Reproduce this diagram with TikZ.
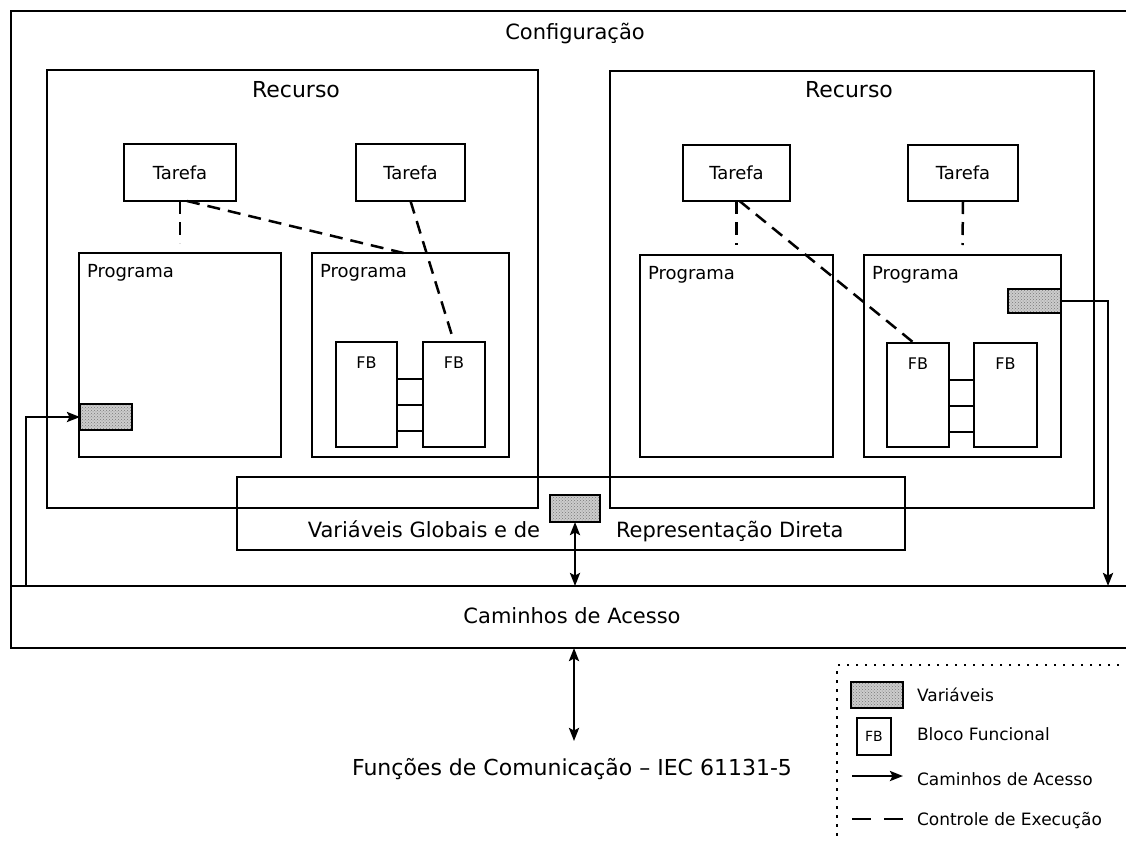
\documentclass[tikz,border=0pt]{standalone}
\usepackage{fontspec}
\setmainfont{DejaVu Sans}
\usetikzlibrary{arrows.meta,patterns,calc}

\newcommand\sz[1]{\fontsize{#1}{#1}\selectfont}

\begin{document}
\begin{tikzpicture}[x=1pt, y=-1pt, line width=2.5pt,
  every node/.style={inner sep=0pt, outer sep=0pt},
  blk/.style 2 args={draw, line width=2.5pt, anchor=north west,
    minimum width=#1pt, minimum height=#2pt},
  varbox/.style 2 args={blk={#1}{#2}, preaction={fill=gray!40},
    pattern=crosshatch dots, pattern color=gray!95!black},
  txt/.style={font=\sz{21}},
  small/.style={font=\sz{18}},
  fbtxt/.style={font=\sz{16}},
  legtxt/.style={font=\sz{17}, anchor=base west},
  ctrl/.style={dash pattern=on 13pt off 8pt},
  tip/.style={Stealth[length=13pt,width=10pt,inset=2.5pt]},
  acc/.style={-{Stealth[length=13pt,width=10pt,inset=2.5pt]}},
  acc2/.style={{Stealth[length=13pt,width=10pt,inset=2.5pt]}-{Stealth[length=13pt,width=10pt,inset=2.5pt]}}
]
\path[use as bounding box] (0,0) rectangle (1126,841);
\clip (0,0) rectangle (1126,841);

% configuration and access paths
\node[blk={1139}{575}] (cfg) at (11,11) {};
\node[blk={1122}{62}] (cam) at (11,586) {};
\node[txt, anchor=base] (cfgT) at (575,39) {Configuração};
\node[txt, anchor=base] (camT) at (572,623) {Caminhos de Acesso};

% resources
\node[blk={491}{438}] (recL) at (47,70) {};
\node[blk={484}{437}] (recR) at (610,71) {};
\node[txt, font=\sz{22}, anchor=base] (recLT) at (296,97) {Recurso};
\node[txt, font=\sz{22}, anchor=base] (recRT) at (849,97) {Recurso};

% tasks
\node[blk={112}{57}, small] (taskA) at (124,144) {Tarefa};
\node[blk={109}{57}, small] (taskB) at (356,144) {Tarefa};
\node[blk={107}{56}, small] (taskC) at (683,145) {Tarefa};
\node[blk={110}{56}, small] (taskD) at (908,145) {Tarefa};

% programs
\node[blk={202}{204}] (progA) at (79,253) {};
\node[blk={197}{204}] (progB) at (312,253) {};
\node[blk={193}{202}] (progC) at (640,255) {};
\node[blk={197}{202}] (progD) at (864,255) {};
\foreach \p in {progA,progB,progC,progD}
  \node[small, anchor=base west] (\p T) at ($(\p.north west)+(8,24)$) {Programa};

% function blocks
\node[blk={61}{105}] (fbA) at (336,342) {};
\node[blk={62}{105}] (fbB) at (423,342) {};
\node[blk={62}{104}] (fbC) at (887,343) {};
\node[blk={63}{104}] (fbD) at (974,343) {};
\foreach \f in {fbA,fbB,fbC,fbD}
  \node[fbtxt, anchor=base] (\f T) at ($(\f.north)+(0,26)$) {FB};
\foreach \d in {37,63,89} {
  \draw ([yshift=-\d pt]fbA.north east) -- ([yshift=-\d pt]fbB.north west);
  \draw ([yshift=-\d pt]fbC.north east) -- ([yshift=-\d pt]fbD.north west);
}

% global variables area
\node[blk={668}{73}] (vg) at (237,477) {};
\node[txt, anchor=base east] (vgT1) at (540,537) {Variáveis Globais e de};
\node[txt, anchor=base west] (vgT2) at (616,537) {Representação Direta};

% variables
\node[varbox={52}{26}] (varA) at (80,404) {};
\node[varbox={50}{27}] (varB) at (550,495) {};
\node[varbox={53}{24}] (varC) at (1008,289) {};

% execution control
\draw[ctrl] (taskA.south) -- ([yshift=10pt]progA.north);
\draw[ctrl] ([xshift=7pt]taskA.south) -- ([xshift=-7pt]progB.north);
\draw[ctrl] (taskB.south) -- (fbB.north);
\draw[ctrl] (taskC.south) -- ([yshift=10pt]progC.north);
\draw[ctrl] ([xshift=3pt]taskC.south) -- ([xshift=-4pt]fbC.north);
\draw[ctrl] (taskD.south) -- ([yshift=10pt]progD.north);

% access paths
\coordinate (accL) at (26,586);
\coordinate (accR) at (1108,586);
\draw[acc] (accL) |- (varA.west);
\draw[acc] (varC.east) -| (accR);
\draw[acc2] (varB.south) -- (varB.south |- cam.north);

% communication functions
\node[txt, font=\sz{22}, anchor=base] (func) at (572,775) {Funções de Comunicação – IEC 61131-5};
\coordinate (funcTop) at (574,741);
\draw[acc2] (cam.south -| funcTop) -- (funcTop);

% legend
\node[draw, line width=2.5pt, dash pattern=on 2.5pt off 6.5pt, anchor=north west,
  minimum width=320pt, minimum height=200pt] (legend) at (837,665) {};
\node[varbox={52}{26}] (legVar) at (851,682) {};
\node[blk={34}{37}, font=\sz{14}] (legFB) at (857,718) {FB};
\coordinate (legAccA) at (852,776);
\coordinate (legAccB) at (903,776);
\coordinate (legCtrlA) at (852,819);
\coordinate (legCtrlB) at (903,819);
\draw[acc] (legAccA) -- (legAccB);
\draw[dash pattern=on 19pt off 13pt] (legCtrlA) -- (legCtrlB);
\node[legtxt] (legVarT) at (917,701) {Variáveis};
\node[legtxt] (legFBT) at (917,740) {Bloco Funcional};
\node[legtxt] (legAccT) at (917,785) {Caminhos de Acesso};
\node[legtxt] (legCtrlT) at (917,825) {Controle de Execução};
\end{tikzpicture}
\end{document}
